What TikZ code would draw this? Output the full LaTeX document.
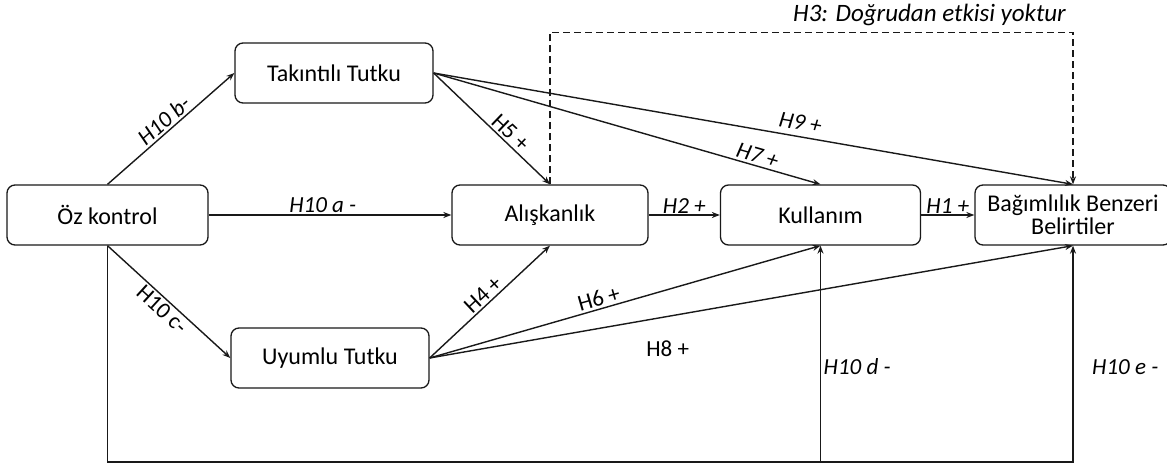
\documentclass[tikz,border=0pt]{standalone}
\usepackage{fontspec}
\setmainfont{Carlito}
\usetikzlibrary{arrows.meta}
\begin{document}
\begin{tikzpicture}[x=1pt,y=-1pt,
  box/.style={draw=black!90, line width=1.3pt, rounded corners=8pt, minimum height=60pt, inner sep=0pt,
    font=\fontsize{24}{23}\selectfont, align=center},
  conn/.style={draw=black!90, line width=1.4pt, -{Stealth[length=8pt,width=6pt]}},
  lbl/.style={font=\fontsize{23}{26}\selectfont\itshape, inner sep=2pt},
  lblu/.style={font=\fontsize{23}{26}\selectfont, inner sep=2pt}]
\clip (0,0) rectangle (1167,465);
\fill[white] (0,0) rectangle (1167,465);
\node[box, minimum width=201pt] (oz) at (107.5,215) {Öz kontrol};
\node[box, minimum width=198pt] (tak) at (334,73) {Takıntılı Tutku};
\node[box, minimum width=196pt] (alis) at (550,215) {Alışkanlık};
\node[box, minimum width=200pt] (kul) at (820.5,215) {Kullanım};
\node[box, minimum width=196pt] (bag) at (1073,215) {Bağımlılık Benzeri\\Belirtiler};
\node[box, minimum width=198pt] (uyum) at (330,358) {Uyumlu Tutku};
\coordinate (bot) at (0,462);
% connectors
\draw[conn] (oz.north) -- node[lbl, sloped, above] {H10 b-} (tak.west);
\draw[conn] (oz.east) -- node[lbl, above, pos=0.47] {H10 a -} (alis.west);
\draw[conn] (oz.south) -- node[lblu, sloped, below] {H10 c-} (uyum.west);
\draw[conn] (tak.east) -- node[lblu, sloped, above, pos=0.6] {H5 +} (alis.north);
\draw[conn] (tak.east) -- node[lbl, sloped, above=4pt, pos=0.57] {H9 +} (bag.north);
\draw[conn] (tak.east) -- node[lbl, sloped, above, pos=0.83] {H7 +} (kul.north);
\draw[conn] (alis.east) -- node[lbl, above, inner sep=1pt] {H2 +} (kul.west);
\draw[conn] (kul.east) -- node[lbl, above, inner sep=1pt] {H1 +} (bag.west);
\draw[conn] (uyum.east) -- node[lblu, sloped, above] {H4 +} (alis.south);
\draw[conn] (uyum.east) -- node[lblu, sloped, above, pos=0.44] {H6 +} (kul.south);
\draw[conn] (uyum.east) -- node[lblu, pos=0.37, yshift=-32pt] {H8 +} (bag.south);
\draw[conn, dash pattern=on 7pt off 4pt] (alis.north) -- ++(0,-152) -| (bag.north);
\node[lbl, font=\fontsize{25}{28}\selectfont\itshape, anchor=east] (h3) at (1068,15) {H3: Doğrudan etkisi yoktur};
\draw[conn] (oz.south) -- (oz.south |- bot) -| (bag.south);
\draw[conn] (kul.south |- bot) -- (kul.south);
\node[lbl, anchor=west] (h10d) at ([xshift=1pt]kul.south |- 0,367) {H10 d -};
\node[lbl, anchor=west] (h10e) at ([xshift=17pt]bag.south |- 0,367) {H10 e -};
\end{tikzpicture}
\end{document}
